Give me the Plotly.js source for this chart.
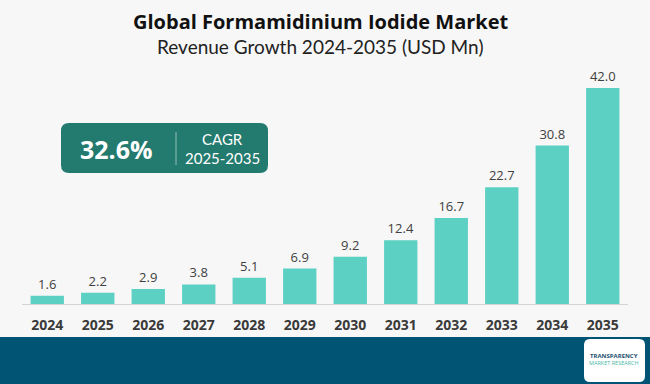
<!DOCTYPE html>
<html>
<head>
<meta charset="utf-8">
<script src="https://cdn.plot.ly/plotly-3.0.1.min.js"></script>
<style>html,body{margin:0;padding:0;background:#f7f7f7;}#chart{width:650px;height:384px;}</style>
</head>
<body>
<div id="chart"></div>
<script>
const years = ["2024","2025","2026","2027","2028","2029","2030","2031","2032","2033","2034","2035"];
const revenue = [1.6, 2.2, 2.9, 3.8, 5.1, 6.9, 9.2, 12.4, 16.7, 22.7, 30.8, 42.0];
const titleText = "Global Formamidinium Iodide Market";
const subtitleText = "Revenue Growth 2024-2035 (USD Mn)";
const cagrValue = "32.6%";
const cagrLabel = "CAGR";
const cagrPeriod = "2025-2035";

const W = 650, H = 384, mL = 22, mR = 22, mT = 60, mB = 80;
const pw = W - mL - mR, ph = H - mT - mB;
const px = x => (x - mL) / pw;
const py = y => (H - mB - y) / ph;

function roundRect(x0, y0, x1, y1, r) {
  const rx = r / pw, ry = r / ph;
  const X0 = px(x0), X1 = px(x1), Y0 = py(y0), Y1 = py(y1);
  return `M ${X0+rx},${Y0} L ${X1-rx},${Y0} Q ${X1},${Y0} ${X1},${Y0-ry} L ${X1},${Y1+ry} Q ${X1},${Y1} ${X1-rx},${Y1} L ${X0+rx},${Y1} Q ${X0},${Y1} ${X0},${Y1+ry} L ${X0},${Y0-ry} Q ${X0},${Y0} ${X0+rx},${Y0} Z`;
}

const trace = {
  type: "bar",
  x: years,
  y: revenue,
  marker: { color: "#5bd0c3" },
  text: revenue.map(v => v.toFixed(1)),
  textposition: "outside",
  textfont: { family: "Open Sans, sans-serif", size: 13, color: "#404040" },
  cliponaxis: false,
  hoverinfo: "skip"
};

const layout = {
  width: W, height: H,
  margin: { l: mL, r: mR, t: mT, b: mB, pad: 0 },
  paper_bgcolor: "#f7f7f7",
  plot_bgcolor: "#f7f7f7",
  bargap: 0.34,
  showlegend: false,
  xaxis: {
    type: "category",
    showline: true, linecolor: "#d4d4d4", linewidth: 1,
    ticks: "", showgrid: false, zeroline: false,
    tickfont: { family: "Open Sans, sans-serif", size: 14, color: "#3a3a3a", weight: "bold" },
    ticklabelstandoff: 8,
    fixedrange: true
  },
  yaxis: {
    range: [0, 47.45], visible: false, showgrid: false, zeroline: false, fixedrange: true
  },
  shapes: [
    { type: "rect", xref: "paper", yref: "paper", x0: px(0), x1: px(W), y0: py(H), y1: py(337),
      fillcolor: "#025474", line: { width: 0 }, layer: "above" },
    { type: "path", xref: "paper", yref: "paper", path: roundRect(61, 123, 268, 173, 8),
      fillcolor: "#237a6e", line: { width: 0 }, layer: "above" },
    { type: "line", xref: "paper", yref: "paper", x0: px(176), x1: px(176), y0: py(132), y1: py(165),
      line: { color: "#8fbdb5", width: 1 }, layer: "above" },
    { type: "path", xref: "paper", yref: "paper", path: roundRect(584, 339, 645, 382, 6),
      fillcolor: "#ffffff", line: { width: 0 }, layer: "above" }
  ],
  annotations: [
    { xref: "paper", yref: "paper", x: px(321), y: py(22), text: "<b>" + titleText + "</b>", showarrow: false,
      xanchor: "center", yanchor: "middle", font: { family: "Open Sans, sans-serif", size: 20, color: "#111111" } },
    { xref: "paper", yref: "paper", x: px(320), y: py(46), text: subtitleText, showarrow: false,
      xanchor: "center", yanchor: "middle", font: { family: "Lato, sans-serif", size: 19, color: "#222222" } },
    { xref: "paper", yref: "paper", x: px(116), y: py(149), text: "<b>" + cagrValue + "</b>", showarrow: false,
      xanchor: "center", yanchor: "middle", font: { family: "Open Sans, sans-serif", size: 25, color: "#ffffff" } },
    { xref: "paper", yref: "paper", x: px(222), y: py(139), text: cagrLabel, showarrow: false,
      xanchor: "center", yanchor: "middle", font: { family: "Lato, sans-serif", size: 15, color: "#ffffff" } },
    { xref: "paper", yref: "paper", x: px(222), y: py(158), text: cagrPeriod, showarrow: false,
      xanchor: "center", yanchor: "middle", font: { family: "Lato, sans-serif", size: 15, color: "#ffffff" } },
    { xref: "paper", yref: "paper", x: px(614), y: py(356), text: "<b>TRANSPARENCY</b>", showarrow: false,
      xanchor: "center", yanchor: "middle", font: { family: "Open Sans, sans-serif", size: 6, color: "#1d4f6e" } },
    { xref: "paper", yref: "paper", x: px(614), y: py(363), text: "MARKET RESEARCH", showarrow: false,
      xanchor: "center", yanchor: "middle", font: { family: "Open Sans, sans-serif", size: 5.5, color: "#4cb8a8" } }
  ]
};

Plotly.newPlot("chart", [trace], layout, { displayModeBar: false, staticPlot: true });
</script>
</body>
</html>
